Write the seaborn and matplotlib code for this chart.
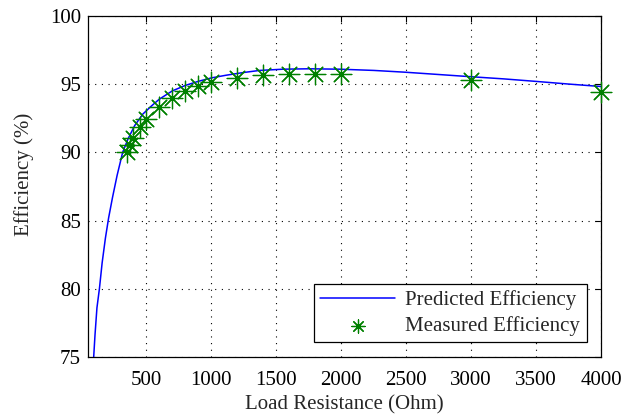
import numpy as np
import pandas as pd
import matplotlib
matplotlib.use("Agg")
import matplotlib.pyplot as plt
import seaborn as sns

# DATA
pred_load=[95,105,120,139,160,185,210,240,275,318,360,410,473,540,601,700,800,900,1000,1115,1250,1372,1552,1750,1989,2250,2490,2750,2979,3250,3506,3750,4000]
pred_eff=[75.0,76.6,78.6,80.0,81.9,83.7,85.2,86.7,88.3,90.0,91.0,91.95,92.8,93.4,93.9,94.5,94.9,95.2,95.45,95.65,95.85,96.0,96.09,96.12,96.09,96.0,95.87,95.7,95.55,95.38,95.19,95.0,94.82]
meas_load=[350,375,400,450,500,600,700,800,900,1000,1200,1400,1600,1800,2000,3000,4000]
meas_eff=[90.05,90.54,91.03,91.88,92.45,93.35,94.01,94.52,94.87,95.14,95.43,95.67,95.75,95.75,95.75,95.31,94.45]
x_ticks=[500,1000,1500,2000,2500,3000,3500,4000]
y_ticks=[75,80,85,90,95,100]

pred=pd.DataFrame({"load":pred_load,"eff":pred_eff})
meas=pd.DataFrame({"load":meas_load,"eff":meas_eff})

# STYLE
sns.set_style("white")
plt.rcParams["font.family"]=["Liberation Serif","DejaVu Serif"]
plt.rcParams["xtick.direction"]="in"
plt.rcParams["ytick.direction"]="in"

fig=plt.figure(figsize=(6.23,4.17),dpi=100)
ax=fig.add_axes([0.141,0.144,0.824,0.818])

# PLOT
sns.lineplot(data=pred,x="load",y="eff",color="#0000ff",linewidth=1.1,ax=ax,label="Predicted Efficiency")
sns.scatterplot(data=meas,x="load",y="eff",marker=(8,2,0),color="#008000",s=220,linewidth=0.9,ax=ax,label="Measured Efficiency",zorder=3,clip_on=False)

ax.set_xlim(50,4000)
ax.set_ylim(75,100)
ax.set_xticks(x_ticks)
ax.set_yticks(y_ticks)
ax.tick_params(labelsize=15,length=4,width=0.8,top=True,right=True,colors="black")
ax.tick_params(axis="x",pad=10)
ax.tick_params(axis="y",pad=5)
ax.grid(True,linestyle=(0,(1,5)),color="black",linewidth=0.8)
for s in ax.spines.values():
    s.set_color("black")
    s.set_linewidth(0.9)
ax.set_xlabel("Load Resistance (Ohm)",fontsize=15,labelpad=4)
ax.set_ylabel("Efficiency (%)",fontsize=15)
ax.yaxis.set_label_coords(-0.105,0.535)

# LEGEND
leg=ax.legend(loc="lower right",fontsize=15,fancybox=False,edgecolor="black",framealpha=1,
              handlelength=3.6,handletextpad=0.5,borderpad=0.3,labelspacing=0.3,borderaxespad=0.7)
leg.get_frame().set_linewidth(0.9)
leg.legend_handles[1].set_sizes([90])

plt.savefig("out.png",dpi=100)
plt.close()
